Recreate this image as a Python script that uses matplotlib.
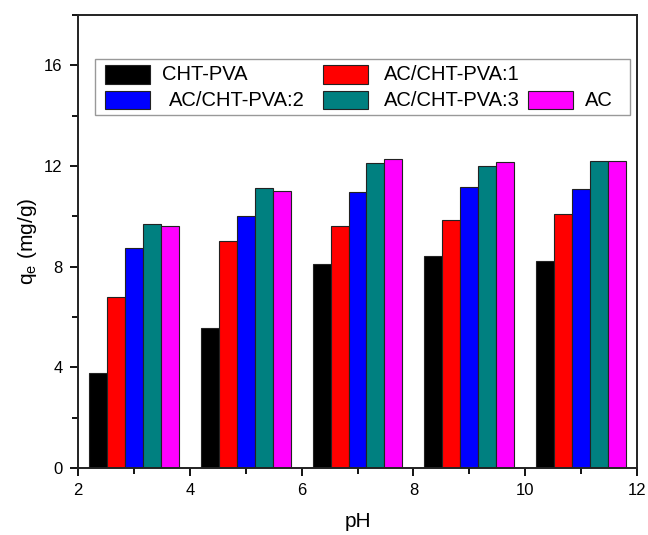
import matplotlib
matplotlib.use("Agg")
import matplotlib.pyplot as plt
from matplotlib.patches import Rectangle
from matplotlib.ticker import MultipleLocator
import numpy as np

plt.rcParams['font.family'] = ['Liberation Sans', 'DejaVu Sans']

# pH values of the bar groups
ph = [3, 5, 7, 9, 11]

# adsorption capacity q_e (mg/g) for each adsorbent
series_names = ["CHT-PVA", "AC/CHT-PVA:1", "AC/CHT-PVA:2", "AC/CHT-PVA:3", "AC"]
cht_pva = [3.78, 5.55, 8.10, 8.42, 8.23]
ac_cht_pva_1 = [6.80, 9.02, 9.60, 9.86, 10.08]
ac_cht_pva_2 = [8.73, 10.02, 10.97, 11.17, 11.08]
ac_cht_pva_3 = [9.68, 11.13, 12.10, 12.00, 12.19]
ac_only = [9.60, 11.00, 12.28, 12.17, 12.19]

series_values = [cht_pva, ac_cht_pva_1, ac_cht_pva_2, ac_cht_pva_3, ac_only]
colors = ["#000000", "#ff0000", "#0000ff", "#008080", "#ff00ff"]

W, H = 648, 535
fig = plt.figure(figsize=(W / 100, H / 100), dpi=100)
ax_left, ax_right, ax_top, ax_bottom = 78, 637, 15, 468   # axes box, pixels
ax = fig.add_axes([ax_left / W, 1 - ax_bottom / H,
                   (ax_right - ax_left) / W, (ax_bottom - ax_top) / H])

width = 0.322
x = np.array(ph, dtype=float)
for i, (name, vals, col) in enumerate(zip(series_names, series_values, colors)):
    offs = (i - 2) * width
    ax.bar(x + offs, vals, width=width, color=col, edgecolor="#222222",
           linewidth=0.8, label=name, zorder=2)

ax.set_xlim(2, 12)
ax.set_ylim(0, 18)
ax.xaxis.set_major_locator(MultipleLocator(2))
ax.xaxis.set_minor_locator(MultipleLocator(1))
ax.yaxis.set_major_locator(MultipleLocator(4))
ax.yaxis.set_minor_locator(MultipleLocator(2))
ax.tick_params(which="major", direction="out", length=6, width=1.3, labelsize=12,
               top=False, right=False, pad=5)
ax.tick_params(which="minor", direction="out", length=4, width=1.3,
               top=False, right=False)
for s in ax.spines.values():
    s.set_linewidth(1.4)
    s.set_color("#222222")

ax.set_xlabel("pH", fontsize=15, labelpad=10)
ax.set_ylabel(r"q$_\mathregular{e}$ (mg/g)", fontsize=15, labelpad=4)


# legend box drawn in axes-fraction units, laid out from pixel positions
def fx(px):
    return (px - ax_left) / (ax_right - ax_left)


def fy(py):
    return (ax_bottom - py) / (ax_bottom - ax_top)


frame = Rectangle((fx(95), fy(115)), fx(630) - fx(95), fy(58.6) - fy(115),
                  transform=ax.transAxes, facecolor="white", edgecolor="#999999",
                  linewidth=1.0, zorder=5)
ax.add_patch(frame)

# (series index, patch left px, row centre px, text left px)
legend_slots = [(0, 105, 74.3, 162), (1, 323, 74.3, 384),
                (2, 105, 100.0, 169), (3, 323, 100.0, 384),
                (4, 528, 100.0, 585)]
patch_w, patch_h = 45, 18.6
for idx, px, py, tx in legend_slots:
    ax.add_patch(Rectangle((fx(px), fy(py + patch_h / 2)),
                           fx(px + patch_w) - fx(px),
                           fy(py - patch_h / 2) - fy(py + patch_h / 2),
                           transform=ax.transAxes, facecolor=colors[idx],
                           edgecolor="#222222", linewidth=0.8, zorder=6))
    ax.text(fx(tx), fy(py), series_names[idx], transform=ax.transAxes,
            fontsize=14.5, va="center", ha="left", zorder=6)

fig.savefig("out.png", dpi=100)
